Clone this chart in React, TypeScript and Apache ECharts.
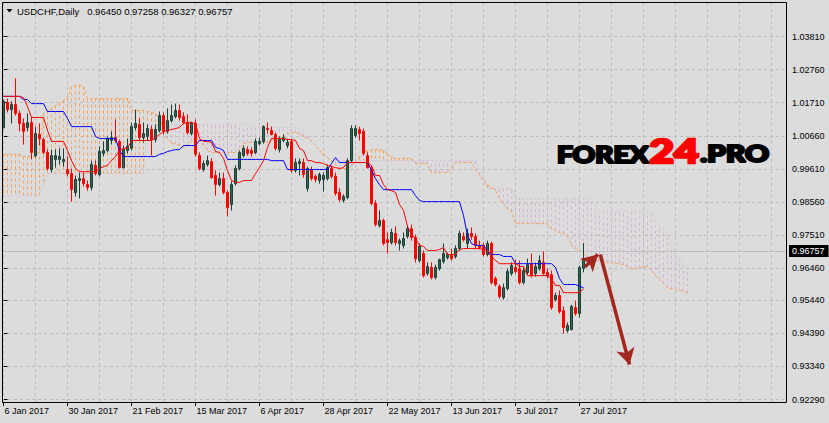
import React, { useEffect, useRef } from "react";
import * as echarts from "echarts";

const SYMBOL = "USDCHF";
const PERIOD = "Daily";
const BRAND = ["FOREX", "24", ".PRO"];

const dateLabels = ["6 Jan 2017", "30 Jan 2017", "21 Feb 2017", "15 Mar 2017", "6 Apr 2017", "28 Apr 2017", "22 May 2017", "13 Jun 2017", "5 Jul 2017", "27 Jul 2017"];
const dateLabelIdx = [0, 16, 32, 48, 64, 80, 96, 112, 128, 144];
const gridX = [0, 8, 16, 24, 32, 40, 48, 56, 64, 72, 80, 88, 96, 104, 112, 120, 128, 136, 144, 152, 160, 168, 176, 184, 192];
const priceTicks = [1.0381, 1.0276, 1.0171, 1.0066, 0.9961, 0.9856, 0.9751, 0.9646, 0.9544, 0.9439, 0.9334, 0.9229];

const open = [
1.0092,1.0172,1.0149,1.0165,1.0137,1.0105,1.0092,1.0108,1.0003,1.0070,
1.0054,1.0013,0.9959,0.9991,0.9991,0.9984,0.9959,0.9946,0.9886,0.9924,
0.9930,0.9911,0.9902,0.9972,0.9943,1.0010,1.0019,1.0051,1.0060,1.0048,
0.9965,1.0019,1.0026,1.0092,1.0102,1.0060,1.0064,1.0086,1.0054,1.0083,
1.0130,1.0080,1.0114,1.0127,1.0146,1.0127,1.0108,1.0073,1.0105,1.0003,
0.9959,0.9975,0.9984,0.9940,0.9911,0.9930,0.9886,0.9848,0.9914,0.9962,
1.0003,1.0022,1.0019,1.0013,1.0041,1.0048,1.0089,1.0083,1.0070,1.0022,
1.0051,1.0035,1.0048,0.9956,0.9978,0.9981,0.9899,0.9959,0.9937,0.9924,
0.9927,0.9930,0.9962,0.9937,0.9886,0.9861,0.9870,0.9987,1.0067,1.0086,
1.0080,1.0003,0.9965,0.9851,0.9781,0.9797,0.9736,0.9727,0.9756,0.9724,
0.9718,0.9746,0.9771,0.9743,0.9670,0.9692,0.9629,0.9648,0.9616,0.9644,
0.9667,0.9679,0.9686,0.9683,0.9708,0.9746,0.9724,0.9756,0.9746,0.9718,
0.9718,0.9689,0.9724,0.9613,0.9588,0.9553,0.9581,0.9629,0.9648,0.9644,
0.9600,0.9632,0.9660,0.9629,0.9644,0.9664,0.9632,0.9625,0.9546,0.9559,
0.9511,0.9448,0.9451,0.9521,0.9502,0.96450];

const high = [
1.0181,1.0184,1.0175,1.0248,1.0146,1.0121,1.0137,1.0124,1.0095,1.0105,
1.0060,1.0022,1.0022,1.0022,1.0026,1.0026,1.0000,0.9962,0.9940,0.9949,
0.9949,0.9924,0.9987,0.9987,1.0032,1.0048,1.0064,1.0080,1.0118,1.0054,
1.0035,1.0057,1.0108,1.0149,1.0121,1.0108,1.0102,1.0099,1.0102,1.0143,
1.0140,1.0153,1.0165,1.0168,1.0165,1.0140,1.0134,1.0111,1.0118,1.0013,
0.9987,1.0003,0.9994,0.9956,0.9949,0.9949,0.9892,0.9921,0.9972,1.0019,
1.0035,1.0032,1.0029,1.0057,1.0060,1.0099,1.0108,1.0095,1.0076,1.0064,
1.0070,1.0057,1.0057,0.9994,0.9994,0.9994,0.9968,0.9968,0.9943,0.9949,
0.9949,0.9975,0.9972,0.9949,0.9899,0.9880,0.9994,1.0099,1.0099,1.0095,
1.0089,1.0013,0.9972,0.9861,0.9829,0.9803,0.9759,0.9771,0.9778,0.9740,
0.9759,0.9781,0.9784,0.9752,0.9724,0.9702,0.9664,0.9664,0.9657,0.9676,
0.9724,0.9695,0.9708,0.9718,0.9765,0.9759,0.9771,0.9775,0.9756,0.9733,
0.9727,0.9733,0.9730,0.9619,0.9594,0.9597,0.9644,0.9664,0.9673,0.9670,
0.9648,0.9676,0.9692,0.9664,0.9686,0.9699,0.9644,0.9638,0.9568,0.9575,
0.9524,0.9473,0.9530,0.9543,0.9654,0.97258];

const low = [
1.0089,1.0140,1.0105,1.0130,1.0080,1.0038,1.0080,0.9991,0.9997,1.0035,
1.0007,0.9956,0.9949,0.9965,0.9975,0.9968,0.9937,0.9857,0.9873,0.9867,
0.9905,0.9892,0.9892,0.9940,0.9937,1.0000,1.0013,1.0038,1.0045,0.9962,
0.9962,1.0010,1.0019,1.0083,1.0051,1.0045,1.0051,1.0003,1.0045,1.0076,
1.0070,1.0073,1.0108,1.0121,1.0114,1.0102,1.0070,1.0067,1.0000,0.9956,
0.9952,0.9968,0.9930,0.9876,0.9905,0.9880,0.9810,0.9829,0.9908,0.9956,
0.9997,1.0003,1.0000,1.0007,1.0035,1.0041,1.0073,1.0067,1.0019,1.0013,
1.0045,1.0026,0.9949,0.9949,0.9940,0.9933,0.9889,0.9924,0.9918,0.9914,
0.9889,0.9924,0.9930,0.9876,0.9857,0.9854,0.9864,0.9981,1.0060,1.0051,
1.0003,0.9962,0.9845,0.9778,0.9775,0.9718,0.9692,0.9721,0.9718,0.9702,
0.9708,0.9740,0.9733,0.9664,0.9664,0.9616,0.9622,0.9610,0.9610,0.9638,
0.9660,0.9673,0.9670,0.9676,0.9702,0.9730,0.9708,0.9736,0.9708,0.9705,
0.9683,0.9683,0.9594,0.9588,0.9549,0.9546,0.9575,0.9622,0.9629,0.9594,
0.9594,0.9625,0.9616,0.9619,0.9638,0.9622,0.9613,0.9514,0.9540,0.9502,
0.9438,0.9441,0.9448,0.9495,0.9489,0.96327];

const close = [
1.0175,1.0149,1.0165,1.0137,1.0105,1.0080,1.0108,1.0013,1.0073,1.0057,
1.0013,0.9962,1.0003,1.0003,1.0000,0.9991,0.9946,0.9895,0.9927,0.9930,
0.9914,0.9902,0.9975,0.9946,1.0016,1.0019,1.0057,1.0060,1.0051,0.9965,
1.0022,1.0032,1.0095,1.0105,1.0060,1.0073,1.0089,1.0054,1.0086,1.0130,
1.0080,1.0114,1.0130,1.0146,1.0124,1.0108,1.0076,1.0105,1.0007,0.9962,
0.9978,0.9987,0.9933,0.9911,0.9930,0.9886,0.9838,0.9911,0.9962,1.0013,
1.0026,1.0010,1.0010,1.0048,1.0048,1.0095,1.0086,1.0070,1.0026,1.0054,
1.0060,1.0045,0.9956,0.9981,0.9984,0.9943,0.9962,0.9930,0.9927,0.9943,
0.9940,0.9965,0.9937,0.9883,0.9864,0.9873,0.9987,1.0089,1.0089,1.0073,
1.0010,0.9965,0.9851,0.9784,0.9797,0.9724,0.9727,0.9759,0.9727,0.9733,
0.9740,0.9771,0.9743,0.9676,0.9715,0.9622,0.9651,0.9616,0.9648,0.9673,
0.9692,0.9689,0.9676,0.9708,0.9756,0.9736,0.9756,0.9746,0.9718,0.9711,
0.9689,0.9724,0.9600,0.9594,0.9556,0.9584,0.9635,0.9654,0.9635,0.9600,
0.9638,0.9657,0.9622,0.9651,0.9670,0.9629,0.9622,0.9521,0.9559,0.9508,
0.9457,0.9464,0.9524,0.9502,0.9648,0.96757];

const tenkan = [
1.0191,1.0191,1.0191,1.0191,1.0191,1.0187,1.0159,1.0124,1.0124,1.0124,
1.0124,1.0083,1.0048,1.0048,1.0048,1.0048,1.0019,0.9987,0.9962,0.9952,
0.9952,0.9952,0.9952,0.9952,0.9962,0.9968,0.9972,0.9987,1.0000,1.0019,
1.0026,1.0026,1.0051,1.0051,1.0051,1.0051,1.0051,1.0051,1.0060,1.0070,
1.0080,1.0083,1.0086,1.0089,1.0092,1.0105,1.0108,1.0108,1.0105,1.0057,
1.0048,1.0048,1.0045,1.0016,1.0013,0.9994,0.9956,0.9924,0.9918,0.9918,
0.9924,0.9924,0.9924,0.9946,0.9965,0.9987,1.0029,1.0057,1.0057,1.0057,
1.0057,1.0054,1.0054,1.0051,1.0026,1.0019,0.9987,0.9987,0.9981,0.9981,
0.9978,0.9972,0.9968,0.9965,0.9962,0.9965,0.9981,0.9981,0.9981,0.9981,
0.9981,0.9981,0.9972,0.9940,0.9940,0.9911,0.9895,0.9892,0.9886,0.9848,
0.9829,0.9778,0.9752,0.9740,0.9718,0.9715,0.9702,0.9702,0.9702,0.9705,
0.9711,0.9689,0.9689,0.9689,0.9705,0.9708,0.9708,0.9708,0.9708,0.9708,
0.9705,0.9702,0.9683,0.9670,0.9660,0.9660,0.9660,0.9660,0.9660,0.9651,
0.9651,0.9622,0.9622,0.9622,0.9622,0.9622,0.9622,0.9613,0.9591,0.9591,
0.9568,0.9568,0.9568,0.9568,0.9568,0.9581];

const kijun = [
1.0191,1.0191,1.0191,1.0191,1.0191,1.0181,1.0181,1.0168,1.0168,1.0168,
1.0168,1.0143,1.0143,1.0143,1.0143,1.0143,1.0121,1.0095,1.0095,1.0095,
1.0095,1.0095,1.0095,1.0064,1.0057,1.0057,1.0057,1.0057,1.0057,1.0019,
1.0000,1.0000,1.0000,1.0000,1.0000,1.0000,1.0000,1.0000,1.0000,1.0007,
1.0010,1.0016,1.0019,1.0022,1.0022,1.0035,1.0035,1.0035,1.0035,1.0051,
1.0051,1.0051,1.0051,1.0029,1.0026,1.0019,0.9991,0.9991,0.9991,0.9991,
0.9991,0.9991,0.9991,0.9991,0.9991,0.9991,0.9991,0.9987,0.9987,0.9987,
0.9987,0.9959,0.9959,0.9959,0.9959,0.9959,0.9959,0.9959,0.9959,0.9959,
0.9959,0.9959,0.9978,0.9997,0.9981,0.9981,0.9981,0.9981,0.9981,0.9981,
0.9981,0.9981,0.9956,0.9930,0.9911,0.9895,0.9895,0.9895,0.9895,0.9895,
0.9895,0.9895,0.9895,0.9876,0.9861,0.9857,0.9857,0.9857,0.9857,0.9857,
0.9857,0.9857,0.9857,0.9857,0.9857,0.9813,0.9749,0.9724,0.9718,0.9718,
0.9718,0.9702,0.9689,0.9689,0.9689,0.9683,0.9683,0.9683,0.9660,0.9660,
0.9660,0.9660,0.9660,0.9660,0.9660,0.9660,0.9660,0.9660,0.9648,0.9613,
0.9594,0.9594,0.9594,0.9594,0.9588,0.9584];

const spanA = [
1.0007,1.0007,1.0007,1.0007,1.0007,1.0000,1.0000,1.0000,1.0000,1.0019,
1.0137,1.0146,1.0153,1.0162,1.0168,1.0178,1.0187,1.0222,1.0226,1.0226,
1.0222,1.0184,1.0184,1.0184,1.0184,1.0184,1.0184,1.0184,1.0184,1.0184,
1.0184,1.0184,1.0146,1.0146,1.0146,1.0146,1.0143,1.0140,1.0137,1.0121,
1.0089,1.0057,1.0041,1.0041,1.0035,1.0029,1.0035,1.0051,1.0057,1.0051,
1.0035,1.0019,1.0013,1.0013,1.0013,1.0013,1.0013,1.0013,1.0013,1.0026,
1.0041,1.0045,1.0045,1.0045,1.0045,1.0045,1.0045,1.0051,1.0054,1.0057,
1.0064,1.0070,1.0076,1.0076,1.0070,1.0064,1.0057,1.0048,1.0035,1.0019,
1.0010,0.9997,0.9987,0.9975,0.9962,0.9962,0.9962,0.9968,0.9987,1.0000,
1.0013,1.0019,1.0022,1.0022,1.0022,1.0019,1.0010,0.9997,0.9994,0.9994,
0.9994,0.9994,0.9994,0.9978,0.9978,0.9978,0.9978,0.9949,0.9949,0.9949,
0.9949,0.9949,0.9962,0.9981,0.9981,0.9981,0.9981,0.9981,0.9956,0.9940,
0.9924,0.9911,0.9902,0.9892,0.9867,0.9851,0.9835,0.9826,0.9787,0.9787,
0.9787,0.9787,0.9787,0.9787,0.9787,0.9787,0.9787,0.9771,0.9765,0.9759,
0.9756,0.9746,0.9718,0.9708,0.9702,0.9692,0.9679,0.9676,0.9670,0.9670,
0.9667,0.9664,0.9664,0.9660,0.9660,0.9657,0.9651,0.9644,0.9644,0.9648,
0.9651,0.9651,0.9638,0.9622,0.9610,0.9597,0.9584,0.9581,0.9578,0.9575,
0.9572,0.9568];

const spanB = [
0.9876,0.9876,0.9876,0.9876,0.9876,0.9876,0.9876,0.9876,0.9876,0.9876,
0.9908,0.9946,0.9946,0.9946,0.9946,0.9946,0.9946,0.9946,0.9946,0.9946,
0.9946,0.9946,0.9946,0.9946,0.9946,0.9946,0.9946,0.9946,0.9946,0.9946,
0.9946,0.9946,0.9946,0.9946,0.9946,0.9946,1.0102,1.0102,1.0102,1.0102,
1.0102,1.0102,1.0102,1.0102,1.0102,1.0102,1.0102,1.0102,1.0102,1.0102,
1.0102,1.0102,1.0102,1.0102,1.0102,1.0102,1.0102,1.0102,1.0102,1.0102,
1.0102,1.0102,1.0095,1.0095,1.0095,1.0095,1.0095,1.0092,1.0092,1.0092,
1.0092,1.0092,1.0092,1.0092,1.0092,1.0083,1.0067,1.0051,1.0035,1.0019,
1.0003,0.9994,0.9987,0.9987,0.9987,0.9987,0.9987,0.9987,0.9987,0.9987,
0.9987,0.9987,0.9987,0.9987,0.9987,0.9987,0.9987,0.9987,0.9987,0.9987,
0.9987,0.9987,0.9987,0.9987,0.9987,0.9987,0.9987,0.9987,0.9987,0.9987,
0.9987,0.9987,0.9987,0.9987,0.9987,0.9987,0.9987,0.9987,0.9987,0.9956,
0.9924,0.9899,0.9899,0.9899,0.9899,0.9899,0.9899,0.9899,0.9867,0.9867,
0.9867,0.9867,0.9867,0.9867,0.9867,0.9867,0.9867,0.9867,0.9867,0.9867,
0.9867,0.9867,0.9867,0.9867,0.9867,0.9867,0.9867,0.9867,0.9845,0.9826,
0.9826,0.9826,0.9826,0.9826,0.9826,0.9826,0.9826,0.9826,0.9826,0.9826,
0.9826,0.9826,0.9826,0.9797,0.9781,0.9771,0.9749,0.9718,0.9695,0.9676,
0.9654,0.9644];

const arrowMain = [[149.2, 0.9689], [156.5, 0.9340]];
const arrowSmall = [[145.4, 0.9650], [148.6, 0.9689]];

const LABEL_FONT = "'Liberation Sans', Arial, sans-serif";
const LOGO_FONT = "Lato, 'Open Sans', 'Liberation Sans', sans-serif";
const BG = "#dcdcdc";

export default function App() {
  const ref = useRef<HTMLDivElement>(null);
  useEffect(() => {
    if (!ref.current) return;
    const chart = echarts.init(ref.current, undefined, { renderer: "svg" });
    const n = close.length - 1;
    const header = `${SYMBOL},${PERIOD}   ${open[n].toFixed(5)} ${high[n].toFixed(5)} ${low[n].toFixed(5)} ${close[n].toFixed(5)}`;
    const candleData = open.map((o, i) => [i, o, close[i], low[i], high[i]]);
    const cloudData = spanA.map((a, i) => [i, a, spanB[i]]);
    const gridLine = { color: "#bdbdbd", type: [3, 3] as any, width: 1 };

    chart.setOption({
      animation: false,
      backgroundColor: BG,
      grid: { left: 2, top: 2, width: 785, height: 400, show: false },
      xAxis: {
        type: "value",
        min: -0.375,
        max: 195.875,
        axisLine: { show: false },
        axisTick: { show: true, customValues: dateLabelIdx, length: 4, lineStyle: { color: "#000" } },
        axisLabel: {
          customValues: dateLabelIdx,
          formatter: (v: number) => dateLabels[dateLabelIdx.indexOf(Math.round(v))] || "",
          align: "left",
          margin: 4,
          padding: [0, 0, 0, 1],
          color: "#000",
          fontFamily: LABEL_FONT,
          fontSize: 9,
        },
        splitLine: { show: false },
      },
      yAxis: {
        type: "value",
        position: "right",
        min: 0.922107,
        max: 1.049049,
        axisLine: { show: false },
        axisTick: { show: true, customValues: priceTicks, length: 4, lineStyle: { color: "#000" } },
        axisLabel: {
          customValues: priceTicks,
          formatter: (v: number) => v.toFixed(5),
          margin: 5,
          color: "#000",
          fontFamily: LABEL_FONT,
          fontSize: 9,
        },
        splitLine: { show: true, lineStyle: gridLine },
      },
      series: [
        {
          type: "line",
          name: "SpanB",
          data: spanB.map((v, i) => [i, v]),
          showSymbol: false,
          symbol: "none",
          lineStyle: { color: "#d8bfd8", width: 1, type: [2, 2] },
          z: 2,
          silent: true,
          markLine: {
            silent: true,
            symbol: ["none", "none"],
            label: { show: false },
            lineStyle: gridLine,
            z: 1,
            data: gridX.map((v) => ({ xAxis: v })),
          },
        },
        {
          type: "custom",
          name: "Cloud",
          data: cloudData,
          encode: { x: 0, y: [1, 2] },
          silent: true,
          z: 2,
          renderItem: (params: any, api: any) => {
            const i = api.value(0);
            const a = api.value(1);
            const b = api.value(2);
            const p1 = api.coord([i, a]);
            const p2 = api.coord([i, b]);
            return {
              type: "line",
              shape: { x1: p1[0], y1: p1[1], x2: p2[0], y2: p2[1] },
              style: { stroke: a >= b ? "#f4a460" : "#d4b6d4", lineWidth: 1, lineDash: [3, 3] },
            };
          },
        },
        {
          type: "line",
          name: "SpanA",
          data: spanA.map((v, i) => [i, v]),
          showSymbol: false,
          symbol: "none",
          lineStyle: { color: "#f4a460", width: 1, type: [3, 2] },
          z: 2,
          silent: true,
        },
        {
          type: "candlestick",
          name: SYMBOL,
          data: candleData,
          barWidth: 2,
          itemStyle: {
            color: "#2f6652",
            color0: "#ff0000",
            borderColor: "#1e3f34",
            borderColor0: "#ff0000",
            borderWidth: 1,
          },
          z: 3,
          silent: true,
          markLine: {
            silent: true,
            symbol: ["none", "none"],
            z: 3,
            lineStyle: { color: "#bcbcbc", type: "solid", width: 1 },
            label: {
              show: true,
              position: "end",
              distance: 2,
              formatter: close[n].toFixed(5),
              color: "#fff",
              backgroundColor: "#000",
              padding: [2, 4, 1, 3],
              fontFamily: LABEL_FONT,
              fontSize: 9,
            },
            data: [{ yAxis: close[n] }],
          },
        },
        {
          type: "line",
          name: "Kijun",
          data: kijun.map((v, i) => [i, v]),
          showSymbol: false,
          symbol: "none",
          lineStyle: { color: "#0000ff", width: 1 },
          z: 4,
          silent: true,
        },
        {
          type: "line",
          name: "Tenkan",
          data: tenkan.map((v, i) => [i, v]),
          showSymbol: false,
          symbol: "none",
          lineStyle: { color: "#ff0000", width: 1 },
          z: 4,
          silent: true,
          markLine: {
            silent: true,
            z: 10,
            symbol: ["none", "arrow"],
            symbolSize: [14, 16],
            label: { show: false },
            lineStyle: { color: "#a3261f", width: 3.5, type: "solid" },
            data: [
              [{ coord: arrowMain[0] }, { coord: arrowMain[1] }],
              [{ coord: arrowSmall[0] }, { coord: arrowSmall[1] }],
            ],
          },
        },
      ],
      graphic: [
        {
          type: "rect",
          z: 100,
          silent: true,
          shape: { x: 2.5, y: 2.5, width: 784, height: 400 },
          style: { fill: "none", stroke: "#000", lineWidth: 1 },
        },
        {
          type: "polygon",
          z: 100,
          silent: true,
          shape: { points: [[6.5, 9], [12.5, 9], [9.5, 12.5]] },
          style: { fill: "#000" },
        },
        {
          type: "text",
          z: 100,
          silent: true,
          x: 17,
          y: 11,
          style: { text: header, fill: "#000", fontFamily: LABEL_FONT, fontSize: 9.5, align: "left", verticalAlign: "middle" },
        },
        {
          type: "text",
          z: 100,
          silent: true,
          x: 557,
          y: 154,
          scaleX: 1.27,
          style: { text: BRAND[0], fill: "#000", stroke: "#000", lineWidth: 2.2, fontFamily: LOGO_FONT, fontWeight: 900, fontSize: 22, align: "left", verticalAlign: "middle" },
        },
        {
          type: "text",
          z: 100,
          silent: true,
          x: 674,
          y: 150,
          scaleX: 1.3,
          style: { text: BRAND[1], fill: "#ff0000", stroke: "#ff0000", lineWidth: 2.5, fontFamily: LOGO_FONT, fontWeight: 900, fontSize: 33, align: "center", verticalAlign: "middle" },
        },
        {
          type: "text",
          z: 100,
          silent: true,
          x: 769,
          y: 154,
          scaleX: 1.35,
          style: { text: BRAND[2], fill: "#000", stroke: "#000", lineWidth: 2.2, fontFamily: LOGO_FONT, fontWeight: 900, fontSize: 22, align: "right", verticalAlign: "middle" },
        },
      ],
    });
    return () => chart.dispose();
  }, []);
  return (
    <div
      ref={ref}
      style={{ position: "fixed", left: 0, top: 0, width: 829, height: 423, background: BG }}
    />
  );
}
